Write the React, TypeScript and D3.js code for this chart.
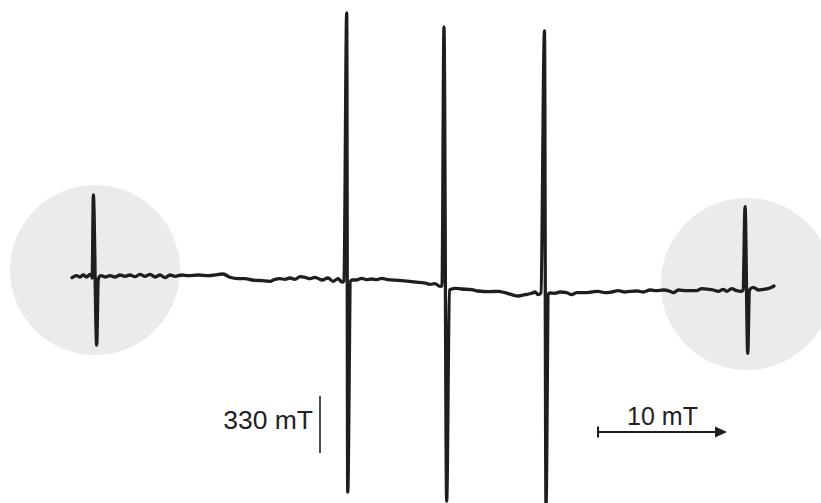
import React from "react";
import * as d3 from "d3";

// Magnetic field (mT) of each sample of the trace
const field: number[] = [
  310.78, 311.14, 311.4, 311.65, 311.91, 312.17, 312.33, 312.34, 312.43, 312.69, 312.81,
  313.02, 313.33, 313.72, 314.11, 314.5, 314.88, 315.27, 315.66, 316.05, 316.43, 316.82,
  317.21, 317.6, 317.98, 318.37, 318.76, 319.28, 319.79, 320.57, 321.34, 322.48, 323.02,
  323.64, 324.19, 324.73, 325.5, 326.12, 326.51, 326.9, 327.29, 327.67, 328.06, 328.45,
  328.84, 329.22, 329.61, 330.16, 330.62, 331.01, 331.4, 331.71, 331.86, 332.07, 332.15,
  332.36, 332.5, 332.79, 333.23, 333.62, 334.01, 334.4, 334.78, 335.27, 336.05, 337.11,
  338.14, 338.53, 338.91, 339.3, 339.46, 339.61, 339.82, 340.03, 340.47, 340.98, 341.76,
  342.25, 343.05, 343.82, 344.34, 344.86, 345.37, 345.89, 346.41, 346.67, 346.9, 347.13,
  347.4, 347.52, 347.7, 347.83, 348.22, 348.6, 349.12, 349.51, 349.9, 350.54, 351.06,
  351.57, 352.09, 352.61, 353.12, 353.64, 354.03, 354.57, 355.06, 355.58, 356.1, 356.61,
  357.13, 357.39, 357.78, 358.43, 359.2, 359.59, 360.1, 360.49, 360.88, 361.26, 361.53,
  361.91, 362.3, 362.69, 362.8, 362.95, 363.16, 363.28, 363.33, 363.59, 363.98, 364.36,
  364.88, 365.19,
];

// EPR derivative signal (a.u.) at each field value
const signal: number[] = [
  2.3, 4.3, 3, 5, 3, 5.7, 3, 2, 85, -65, 1,
  4.3, 3, 4.3, 3, 5, 3.7, 5, 3.3, 5.7, 3.7, 5.7,
  3, 5, 2.3, 5, 3.7, 5, 4.3, 5, 4.3, 6, 2.7,
  1.3, 1.3, 0, -0.7, -1.3, 0.7, 1.3, 0.7, 2, 0.7, 3.3,
  2.7, 1.3, 2.7, 0, 2, -1.3, 1.3, -2, -1, 267, -212,
  -1, 0, 0, 1.7, 0.3, 1, 0.3, 1.7, 0.3, -0.3, -1.7,
  -3, -4.3, -3.7, -6.3, -6, 253, -221, -10, -8.3, -9, -9.7,
  -11, -11.7, -11.3, -12.7, -14.7, -16, -14.7, -13.3, -12, -14.7, -13,
  249, -226, -14, -13, -13.3, -12, -12.7, -14.7, -12.7, -12.7, -12,
  -11.3, -12.7, -12, -10.7, -12, -11.3, -11, -12, -10, -10.7, -10,
  -11.3, -12.7, -10, -10.7, -10.7, -8.7, -9.3, -10, -11.3, -9.3, -11.3,
  -8.7, -10.7, -11.3, -10, 73.3, -73.3, -11, -9.3, -7.3, -10, -9.3,
  -8, -6,
];

// Highlighted weak outer lines (centre field mT, centre signal, radius in mT)
const highlightField: number[] = [312.56, 363.08];
const highlightSignal: number[] = [10, -4];
const highlightRadius: number[] = [6.59, 6.67];

// Scale-bar annotations
const markerField = 330; // mT
const markerLabel = "330 mT";
const spanStart = 351.55; // mT
const spanLength = 10; // mT
const spanLabel = "10 mT";

const W = 821;
const H = 503;

export default function App() {
  const x = d3.scaleLinear().domain([310, 370]).range([62, 836]);
  const y = d3.scaleLinear().domain([-230, 280]).range([510, 0]);
  const pxPerMT = x(1) - x(0);

  const pts: [number, number][] = field.map((f, i) => [f, signal[i]]);
  const line = d3
    .line<[number, number]>()
    .x((d) => x(d[0]))
    .y((d) => y(d[1]))
    .curve(d3.curveMonotoneX);

  const ink = "#1e1e1e";
  const font = "'Liberation Sans', Arial, Helvetica, sans-serif";

  const mx = x(markerField);
  const sx0 = x(spanStart);
  const sx1 = x(spanStart + spanLength);
  const ay = 432;

  return (
    <svg
      width={W}
      height={H}
      viewBox={`0 0 ${W} ${H}`}
      style={{ position: "absolute", left: 0, top: 0, background: "#fff" }}
    >
      {highlightField.map((f, i) => (
        <circle
          key={i}
          cx={x(f)}
          cy={y(highlightSignal[i])}
          r={highlightRadius[i] * pxPerMT}
          fill="#ebebeb"
        />
      ))}
      <path
        d={line(pts) || ""}
        fill="none"
        stroke={ink}
        strokeWidth={3.3}
        strokeLinejoin="round"
        strokeLinecap="round"
      />
      {/* 330 mT marker */}
      <line x1={mx} x2={mx} y1={396} y2={453} stroke={ink} strokeWidth={1.6} />
      <text
        x={mx - 7}
        y={429}
        textAnchor="end"
        fontFamily={font}
        fontSize={26.5}
        fill="#222"
      >
        {markerLabel}
      </text>
      {/* 10 mT span arrow */}
      <line x1={sx0} x2={sx1 - 10} y1={ay} y2={ay} stroke={ink} strokeWidth={2} />
      <line x1={sx0} x2={sx0} y1={ay - 5.5} y2={ay + 5.5} stroke={ink} strokeWidth={2} />
      <path
        d={`M${sx1},${ay} L${sx1 - 12},${ay - 5.5} L${sx1 - 12},${ay + 5.5} Z`}
        fill={ink}
      />
      <text
        x={(sx0 + sx1) / 2}
        y={425}
        textAnchor="middle"
        fontFamily={font}
        fontSize={25}
        fill="#222"
      >
        {spanLabel}
      </text>
    </svg>
  );
}
